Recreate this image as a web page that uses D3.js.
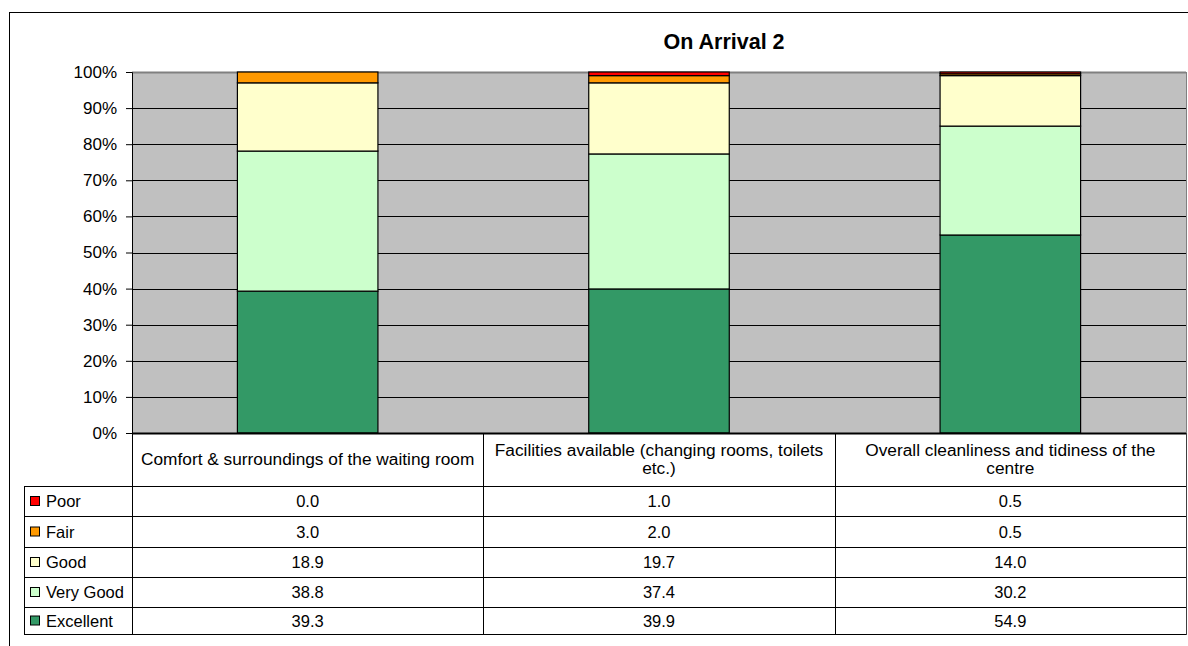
<!DOCTYPE html>
<html><head><meta charset="utf-8">
<script src="https://cdn.jsdelivr.net/npm/d3@7"></script>
<style>body{margin:0;background:#fff}svg{display:block;font-family:"Liberation Sans",Arial,sans-serif}</style>
</head><body>
<svg id="c" width="1188" height="646"></svg>
<script>
const title = "On Arrival 2";
const categories = [
  ["Comfort & surroundings of the waiting room"],
  ["Facilities available (changing rooms, toilets", "etc.)"],
  ["Overall cleanliness and tidiness of the", "centre"]
];
const seriesNames = ["Poor", "Fair", "Good", "Very Good", "Excellent"];
const seriesColors = ["#FF0000", "#FF9900", "#FFFFCC", "#CCFFCC", "#339966"];
const poor = [0.0, 1.0, 0.5];
const fair = [3.0, 2.0, 0.5];
const good = [18.9, 19.7, 14.0];
const veryGood = [38.8, 37.4, 30.2];
const excellent = [39.3, 39.9, 54.9];
const yTicks = [0, 10, 20, 30, 40, 50, 60, 70, 80, 90, 100];

const seriesValues = [poor, fair, good, veryGood, excellent];
const svg = d3.select("#c");
const L = 132, R = 1186, T = 72, B = 433;
const legendLeft = 24;
const rowEdges = [433, 486, 516, 547, 577, 607, 634];
const FS = 16.5;

// outer chart border
svg.append("rect").attr("x", 9.5).attr("y", 12.5).attr("width", 1200).attr("height", 700)
  .attr("fill", "#fff").attr("stroke", "#000").attr("stroke-width", 1);

svg.append("text").attr("x", 724).attr("y", 48.5).attr("text-anchor", "middle")
  .attr("font-size", 21.5).attr("font-weight", "bold").text(title);

const x = d3.scaleBand().domain(d3.range(categories.length)).range([L, R]).padding(0);
const y = d3.scaleLinear().domain([0, 100]).range([B, T]);

svg.append("rect").attr("x", L).attr("y", T).attr("width", R - L).attr("height", B - T)
  .attr("fill", "#C0C0C0");

// gridlines
svg.append("g").selectAll("line").data(yTicks.filter(d => d > 0)).join("line")
  .attr("x1", L).attr("x2", R)
  .attr("y1", d => Math.round(y(d)) + 0.5).attr("y2", d => Math.round(y(d)) + 0.5)
  .attr("stroke", d => d === 100 ? "#808080" : "#000").attr("stroke-width", d => d === 100 ? 2 : 1);
svg.append("line").attr("x1", R + 0.5).attr("x2", R + 0.5).attr("y1", T).attr("y2", B)
  .attr("stroke", "#808080").attr("stroke-width", 1);

// stacked (100%) data
const stackOrder = [4, 3, 2, 1, 0];
const totals = categories.map((c, i) => d3.sum(seriesValues, s => s[i]));
const bw = x.bandwidth() * 0.4;
categories.forEach((c, i) => {
  let acc = 0;
  stackOrder.forEach(si => {
    const v = seriesValues[si][i] / totals[i] * 100;
    const y0 = acc, y1 = acc + v;
    acc = y1;
    if (v <= 0) return;
    svg.append("rect")
      .attr("x", x(i) + (x.bandwidth() - bw) / 2)
      .attr("y", y(y1)).attr("width", bw).attr("height", y(y0) - y(y1))
      .attr("fill", seriesColors[si]).attr("stroke", "#000").attr("stroke-width", 1.2);
  });
});

// y axis
const yAxis = d3.axisLeft(y).tickValues(yTicks).tickFormat(d => d + "%").tickSize(6).tickPadding(9);
const ga = svg.append("g").attr("transform", `translate(${L},0)`).call(yAxis);
ga.select(".domain").attr("stroke", "#000");
ga.selectAll("line").attr("stroke", "#000");
ga.selectAll("text").attr("font-size", 17).attr("fill", "#000")
  .attr("font-family", "'Liberation Sans',Arial,sans-serif");

// data table
const tbl = svg.append("g").attr("stroke", "#000").attr("stroke-width", 1);
tbl.append("line").attr("x1", L).attr("x2", R).attr("y1", B + 0.5).attr("y2", B + 0.5).attr("stroke-width", 2);
rowEdges.slice(1).forEach(ry => {
  tbl.append("line").attr("x1", legendLeft).attr("x2", R).attr("y1", ry + 0.5).attr("y2", ry + 0.5);
});
const colEdges = [L, ...categories.map((c, i) => x(i) + x.bandwidth())];
colEdges.forEach(cx => {
  tbl.append("line").attr("x1", Math.round(cx) + 0.5).attr("x2", Math.round(cx) + 0.5)
    .attr("y1", B).attr("y2", rowEdges[rowEdges.length - 1] + 1)
    .attr("stroke", cx === R ? "#404040" : "#000");
});
tbl.append("line").attr("x1", legendLeft + 0.5).attr("x2", legendLeft + 0.5)
  .attr("y1", rowEdges[1]).attr("y2", rowEdges[rowEdges.length - 1] + 1);

// header labels
categories.forEach((lines, i) => {
  const cx = x(i) + x.bandwidth() / 2;
  const mid = 459 + 6;
  lines.forEach((ln, k) => {
    svg.append("text").attr("x", cx).attr("y", mid + (k - (lines.length - 1) / 2) * 18)
      .attr("text-anchor", "middle").attr("font-size", 17.3).text(ln);
  });
});

// rows
seriesNames.forEach((name, si) => {
  const r0 = rowEdges[si + 1], r1 = rowEdges[si + 2];
  const cy = (r0 + r1) / 2;
  svg.append("rect").attr("x", 30.5).attr("y", cy - 4.5).attr("width", 9).attr("height", 9)
    .attr("fill", seriesColors[si]).attr("stroke", "#000").attr("stroke-width", 1);
  svg.append("text").attr("x", 46).attr("y", cy + 6).attr("font-size", FS).text(name);
  seriesValues[si].forEach((v, i) => {
    svg.append("text").attr("x", x(i) + x.bandwidth() / 2).attr("y", cy + 6)
      .attr("text-anchor", "middle").attr("font-size", FS).text(v.toFixed(1));
  });
});
</script>
</body></html>
